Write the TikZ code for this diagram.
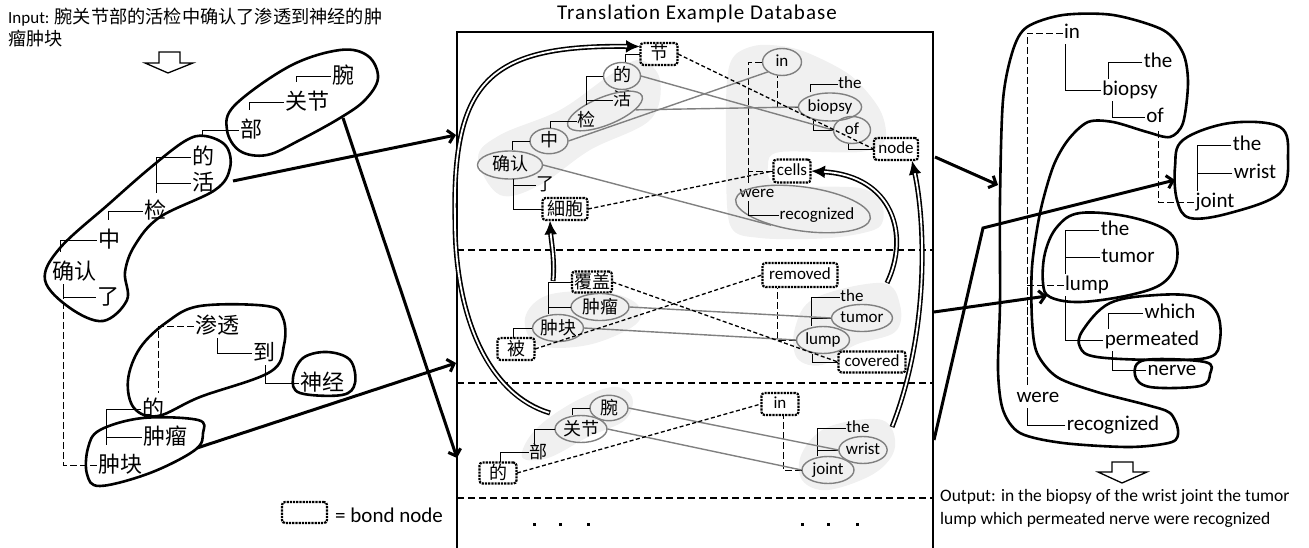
\documentclass[tikz,border=0pt]{standalone}
\usepackage{fontspec}
\setmainfont{Carlito}
\newfontfamily\cjk{Noto Sans CJK SC}
\newfontfamily\spacedfont[LetterSpace=5]{Carlito}
\usetikzlibrary{shapes.geometric,arrows.meta,calc}
\begin{document}
\begin{tikzpicture}[x=1pt,y=-1pt,
  lz/.style={font=\cjk\fontsize{22}{22}\selectfont, inner sep=0pt, outer sep=1.5pt, text height=18pt, text depth=3.5pt},
  mz/.style={font=\cjk\fontsize{18}{18}\selectfont, inner sep=0pt, outer sep=0.5pt, text height=15pt, text depth=3pt},
  me/.style={font=\fontsize{17}{17}\selectfont, inner sep=0pt, outer sep=0.5pt, text height=12pt, text depth=3.5pt},
  re/.style={font=\fontsize{21}{21}\selectfont, inner sep=0pt, outer sep=1.5pt, text height=15pt, text depth=4.5pt},
  gel/.style={ellipse, draw=gray, line width=1.4pt},
  bond/.style={draw, rounded corners=3pt, densely dotted, line width=2.2pt},
  tree/.style={line width=0.8pt},
  tdash/.style={line width=0.8pt, dash pattern=on 7pt off 3pt},
  aln/.style={draw=gray, line width=1.4pt},
  bline/.style={line width=1.3pt, dash pattern=on 4pt off 2.5pt},
  blob/.style={line width=2.6pt, line join=round},
  gblob/.style={fill=gray!12, draw=none},
  tarr/.style={line width=3pt, -{Straight Barb[length=6pt,width=13pt]}},
  darrb/.style={draw=black, line width=5pt, -{Latex[length=14pt,width=13pt]}},
  darrw/.style={draw=white, line width=1.8pt, shorten >=13pt, shorten <=0.8pt},
  hollow/.style={line width=1.3pt, line join=miter}
]
\useasboundingbox (0,0) rectangle (1309,548);

% ---------- gray background blobs (database) ----------
\fill[gblob] plot[smooth cycle, tension=0.6] coordinates {(478,158) (500,135) (560,110) (610,75) (640,60) (660,80) (650,120) (590,150) (540,185) (500,195)};
\fill[gblob] plot[smooth cycle, tension=0.5] coordinates {(735,55) (760,45) (800,50) (850,75) (880,110) (885,140) (860,152) (780,152) (768,165) (778,185) (860,188) (882,205) (878,228) (830,238) (760,238) (730,225) (726,150) (727,80)};
\fill[gblob] plot[smooth cycle, tension=0.6] coordinates {(525,318) (548,295) (605,292) (638,305) (635,325) (588,345) (538,345)};
\fill[gblob] plot[smooth cycle, tension=0.6] coordinates {(882,283) (900,305) (895,332) (855,345) (822,365) (797,358) (795,328) (815,298)};
\fill[gblob] plot[smooth cycle, tension=0.6] coordinates {(522,457) (535,430) (572,403) (612,387) (632,397) (625,420) (588,437) (548,458)};
\fill[gblob] plot[smooth cycle, tension=0.6] coordinates {(882,420) (895,447) (875,473) (828,490) (802,480) (802,453) (828,427)};

% ---------- titles and texts ----------
\node[font=\spacedfont\fontsize{21}{21}\selectfont, inner sep=0pt] (title) at (697,14) {Translation Example Database};
\node[anchor=base west, inner sep=0pt] (input1) at (8,24) {\fontsize{17}{17}\selectfont Input: \cjk\fontsize{18.2}{18.2}\selectfont 腕关节部的活检中确认了渗透到神经的肿};
\node[anchor=base west, inner sep=0pt] (input2) at (8,46) {\cjk\fontsize{18.2}{18.2}\selectfont 瘤肿块};
\node[anchor=north west, align=left, font=\fontsize{17.5}{23}\selectfont, inner sep=0pt] (output) at (940,489) {Output: in the biopsy of the wrist joint the tumor\\lump which permeated nerve were recognized};
\node[bond, minimum width=45pt, minimum height=21pt] (legbox) at (304.5,512.5) {};
\node[anchor=west, font=\fontsize{21}{21}\selectfont, inner sep=0pt] (legtxt) at (335,515) {= bond node};

% hollow arrows
\draw[hollow] (159,52) -- (180,52) -- (180,63) -- (193,63) -- (168,73) -- (145,63) -- (159,63) -- cycle;
\draw[hollow] (1112,462) -- (1133,462) -- (1133,472) -- (1147,472) -- (1122,483) -- (1098,472) -- (1112,472) -- cycle;

% ---------- database box ----------
\draw[line width=1.5pt] (457,552) -- (457,32) -- (933,32) -- (933,552);
\draw[line width=1.5pt, dash pattern=on 7pt off 4pt] (457,250) -- (933,250);
\draw[line width=1.5pt, dash pattern=on 7pt off 4pt] (457,383) -- (933,383);
\draw[line width=1.5pt, dash pattern=on 7pt off 4pt] (457,498) -- (933,498);
\foreach \x in {534,560,588,802,828,857} \fill (\x-1.5,522.5) rectangle ++(3.5,3.5);

% ---------- left panel nodes ----------
\node[lz] (wan) at (343,76) {腕};
\node[lz] (guanjie) at (307,102) {关节};
\node[lz] (bu) at (251,130) {部};
\node[lz] (de1) at (203,157) {的};
\node[lz] (huo) at (203,183) {活};
\node[lz] (jian) at (155,211) {检};
\node[lz] (zhong) at (109,240) {中};
\node[lz] (queren) at (74,272) {确认};
\node[lz] (le) at (108,297) {了};
\node[lz] (shentou) at (217,326) {渗透};
\node[lz] (dao) at (264,353) {到};
\node[lz] (shenjing) at (322,383) {神经};
\node[lz] (de2) at (153,409) {的};
\node[lz] (zhongliu) at (165,437) {肿瘤};
\node[lz] (zhongkuai) at (120,465) {肿块};

% ---------- middle top nodes ----------
\node[mz, bond, minimum width=37pt, minimum height=22pt] (jie) at (659,54) {节};
\node[mz, gel, minimum width=37pt, minimum height=27pt] (mde) at (622,76) {的};
\node[mz] (mhuo) at (622,100) {活};
\node[mz] (mjian) at (586,121) {检};
\node[gel, minimum width=80pt, minimum height=28pt, rotate=22, inner sep=0pt] (huojian) at (605,111) {};
\node[mz, gel, minimum width=38pt, minimum height=25pt] (mzhong) at (549,141) {中};
\node[mz, gel, minimum width=65pt, minimum height=28pt] (mqueren) at (510,165) {确认};
\node[mz] (mle) at (545,185) {了};
\node[mz, bond, minimum width=45pt, minimum height=22pt] (xibao) at (565,209) {細胞};
\node[me, gel, minimum width=39pt, minimum height=27pt] (ein) at (782,62) {in};
\node[me] (ethe1) at (850,84) {the};
\node[me, gel, minimum width=56pt, minimum height=28pt] (ebiopsy) at (830,107) {biopsy};
\node[me, gel, minimum width=37pt, minimum height=27pt] (eof) at (852,130) {of};
\node[me, bond, minimum width=44pt, minimum height=22pt] (enode) at (896,149) {node};
\node[me, bond, minimum width=37pt, minimum height=23pt] (ecells) at (792,171) {cells};
\node[me] (ewere) at (757,193) {were};
\node[me] (erec) at (817,215) {recognized};
\node[gel, minimum width=136pt, minimum height=44pt, rotate=-8, inner sep=0pt] (wrell) at (803,209) {};

% ---------- middle section nodes ----------
\node[mz, bond, minimum width=40pt, minimum height=21pt] (fugai) at (592,282) {覆盖};
\node[mz, gel, minimum width=58pt, minimum height=27pt] (mzl) at (600,307) {肿瘤};
\node[mz, gel, minimum width=50pt, minimum height=27pt] (mzk) at (558,328) {肿块};
\node[mz, bond, minimum width=37pt, minimum height=22pt] (bei) at (516,349) {被};
\node[me, bond, minimum width=75pt, minimum height=24pt] (removed) at (800,275) {removed};
\node[me] (mthe2) at (852,297) {the};
\node[me, gel, minimum width=58pt, minimum height=27pt] (tumor) at (862,318) {tumor};
\node[me, gel, minimum width=53pt, minimum height=27pt] (lump) at (823,340) {lump};
\node[me, bond, minimum width=67pt, minimum height=21pt] (covered) at (872,362) {covered};

% ---------- bottom section nodes ----------
\node[mz, gel, minimum width=38pt, minimum height=25pt] (bwan) at (609,408) {腕};
\node[mz, gel, minimum width=52pt, minimum height=27pt] (bguanjie) at (581,429) {关节};
\node[mz] (bbu) at (538,452) {部};
\node[mz, bond, minimum width=37pt, minimum height=21pt] (bde) at (498,473) {的};
\node[me, bond, minimum width=37pt, minimum height=22pt] (bin) at (780,404) {in};
\node[me] (bthe) at (858,428) {the};
\node[me, gel, minimum width=48pt, minimum height=27pt] (wrist) at (863,450) {wrist};
\node[me, gel, minimum width=52pt, minimum height=27pt] (joint) at (828,470) {joint};

% ---------- right panel nodes ----------
\node[re] (rin) at (1072,33) {in};
\node[re] (rthe1) at (1158,62) {the};
\node[re] (rbiopsy) at (1130,90) {biopsy};
\node[re] (rof) at (1155,117) {of};
\node[re] (rthe2) at (1247,145) {the};
\node[re] (rwrist) at (1255,173) {wrist};
\node[re] (rjoint) at (1215,202) {joint};
\node[re] (rthe3) at (1115,230) {the};
\node[re] (rtumor) at (1128,257) {tumor};
\node[re] (rlump) at (1087,285) {lump};
\node[re] (rwhich) at (1170,313) {which};
\node[re] (rperm) at (1152,340) {permeated};
\node[re] (rnerve) at (1172,370) {nerve};
\node[re] (rwere) at (1038,397) {were};
\node[re] (rrec) at (1113,425) {recognized};

% ---------- left tree ----------
\draw[tree] (wan.west) -| ([xshift=-11pt,yshift=8pt]guanjie.north);
\draw[tree] (guanjie.west) -| ([xshift=-2pt,yshift=8pt]bu.north);
\draw[tree] (bu.west) -| ([xshift=-1pt,yshift=8pt]de1.north);
\draw[tree] (de1.west) -| ([xshift=1pt,yshift=6pt]jian.north);
\draw[tree] (huo.west) -| ([xshift=1pt,yshift=6pt]jian.north);
\draw[tree] (jian.west) -| ([xshift=-1pt,yshift=8pt]zhong.north);
\draw[tree] (zhong.west) -| ([xshift=-14pt,yshift=8pt]queren.north);
\draw[tree] (le.west) -| ([xshift=-11pt]queren.south);
\draw[tdash] (zhongkuai.west) -| ([xshift=-11pt,yshift=-12pt]queren.south);
\draw[tree] (zhongliu.west) -| ([xshift=-14pt,yshift=8pt]zhongkuai.north);
\draw[tree] (de2.west) -| ([xshift=-14pt,yshift=8pt]zhongkuai.north);
\draw[tdash] (shentou.west) -| ([xshift=5pt,yshift=4pt]de2.north);
\draw[tree] (dao.west) -| (shentou.south);
\draw[tree] (shenjing.west) -| ([xshift=1pt]dao.south);

% ---------- middle top tree ----------
\draw[tree] (jie.west) -| ([xshift=3pt]mde.north);
\draw[tree] (mde.west) -| ([yshift=6pt]mjian.north);
\draw[tree] (mhuo.west) -| ([yshift=6pt]mjian.north);
\draw[tree] (mjian.west) -| ([xshift=1pt]mzhong.north);
\draw[tree] (mzhong.west) -| ([xshift=2pt]mqueren.north);
\draw[tree] (mle.west) -| ([xshift=3pt]mqueren.south);
\draw[tree] (xibao.west) -| ([xshift=3pt]mqueren.south);
\draw[tdash] (ein.west) -| ([xshift=-9pt,yshift=2pt]ewere.north);
\draw[tdash] (ecells.west) -| ([xshift=-9pt,yshift=2pt]ewere.north);
\draw[tree] (erec.west) -| ([xshift=-9pt]ewere.south);
\draw[tdash] (ebiopsy.west) -| ([xshift=-5pt]ein.south);
\draw[tree] (ethe1.west) -| ([xshift=-20pt]ebiopsy.north);
\draw[tree] (eof.west) -| ([xshift=-17pt]ebiopsy.south);
\draw[tree] (enode.west) -| ([xshift=-4pt]eof.south);

% ---------- middle section tree ----------
\draw[tree] (fugai.west) -| ([xshift=-10pt]mzk.north);
\draw[tree] (mzl.west) -| ([xshift=-10pt]mzk.north);
\draw[tree] (mzk.west) -| ([xshift=-3pt]bei.north);
\draw[tdash] (lump.west) -| ([xshift=-23pt]removed.south);
\draw[tree] (mthe2.west) -| ([xshift=-12pt]lump.north);
\draw[tree] (tumor.west) -| ([xshift=-12pt]lump.north);
\draw[tree] (covered.west) -| ([xshift=-11pt]lump.south);

% ---------- bottom section tree ----------
\draw[tree] (bwan.west) -| ([xshift=-9pt]bguanjie.north);
\draw[tree] (bguanjie.west) -| ([xshift=-4pt]bbu.north);
\draw[tree] (bbu.west) -| ([xshift=2pt]bde.north);
\draw[tdash] (joint.west) -| ([xshift=3pt]bin.south);
\draw[tree] (bthe.west) -| ([xshift=-11pt]joint.north);
\draw[tree] (wrist.west) -| ([xshift=-11pt]joint.north);

% ---------- right tree ----------
\draw[tdash] (rin.west) -| ([xshift=-11pt]rwere.north);
\draw[tdash] (rlump.west) -| ([xshift=-11pt]rwere.north);
\draw[tree] (rrec.west) -| ([xshift=-11pt]rwere.south);
\draw[tree] (rbiopsy.west) -| ([xshift=-7pt]rin.south);
\draw[tree] (rthe1.west) -| ([xshift=-22pt]rbiopsy.north);
\draw[tree] (rof.west) -| ([xshift=-18pt]rbiopsy.south);
\draw[tdash] (rjoint.west) -| ([xshift=3pt]rof.south);
\draw[tree] (rthe2.west) -| ([xshift=-18pt]rjoint.north);
\draw[tree] (rwrist.west) -| ([xshift=-18pt]rjoint.north);
\draw[tree] (rthe3.west) -| ([xshift=-22pt]rlump.north);
\draw[tree] (rtumor.west) -| ([xshift=-22pt]rlump.north);
\draw[tree] (rperm.west) -| ([xshift=-22pt]rlump.south);
\draw[tree] (rwhich.west) -| ([xshift=-44pt]rperm.north);
\draw[tree] (rnerve.west) -| ([xshift=-40pt]rperm.south);

% ---------- alignment lines ----------
\draw[aln] (mde.east) -- (eof.west);
\draw[aln] (huojian.south east) -- (ebiopsy.west);
\draw[aln] (mzhong.east) -- (ein.south west);
\draw[aln] (mqueren.east) -- (wrell.215);
\draw[aln] (mzl.east) -- (tumor.west);
\draw[aln] (mzk.east) -- (lump.west);
\draw[aln] (bwan.east) -- (wrist.west);
\draw[aln] (bguanjie.east) -- (joint.west);

% ---------- bond links ----------
\draw[bline] (jie.east) -- (enode.west);
\draw[bline] (xibao.east) -- (ecells.west);
\draw[bline] (fugai.east) -- (covered.west);
\draw[bline] (bei.east) -- (removed.west);
\draw[bline] (bde.east) -- (bin.west);

% ---------- left blobs ----------
\draw[blob] plot[smooth cycle, tension=0.6] coordinates {(340,50) (368,56) (378,78) (365,100) (340,118) (300,140) (267,155) (240,151) (227,130) (235,105) (290,66)};
\draw[blob] plot[smooth cycle, tension=0.6] coordinates {(205,136) (226,146) (230,168) (215,190) (160,217) (135,245) (125,272) (127,300) (103,321) (70,308) (45,280) (60,248) (110,203) (150,168) (185,141)};
\draw[blob] plot[smooth cycle, tension=0.6] coordinates {(200,306) (267,306) (283,318) (284,345) (270,372) (200,397) (158,416) (134,408) (128,380) (140,348) (167,322)};
\draw[blob] plot[smooth cycle, tension=0.6] coordinates {(327,352) (350,360) (355,383) (342,395) (300,393) (293,378) (303,358)};
\draw[blob] plot[smooth cycle, tension=0.6] coordinates {(143,418) (198,420) (203,433) (195,450) (150,473) (100,486) (87,474) (88,448) (100,430)};

% ---------- right blobs ----------
\draw[blob] plot[smooth cycle, tension=0.5] coordinates {(1027,27) (1063,15) (1113,15) (1163,30) (1183,53) (1188,83) (1183,123) (1170,137) (1147,132) (1113,122) (1088,122) (1068,140) (1053,167) (1040,213) (1032,267) (1032,320) (1037,353) (1057,377) (1097,392) (1147,405) (1170,413) (1178,430) (1172,442) (1130,447) (1063,443) (1020,433) (1003,410) (998,370) (1000,303) (1000,200) (1003,100) (1013,50)};
\draw[blob] plot[smooth cycle, tension=0.6] coordinates {(1230,123) (1280,127) (1288,157) (1280,193) (1230,213) (1190,218) (1177,200) (1175,167) (1183,140)};
\draw[blob] plot[smooth cycle, tension=0.6] coordinates {(1080,213) (1130,217) (1170,233) (1177,260) (1163,283) (1130,295) (1080,302) (1050,297) (1043,283) (1045,253) (1057,227)};
\draw[blob] plot[smooth cycle, tension=0.6] coordinates {(1157,295) (1197,297) (1217,313) (1220,340) (1210,357) (1163,360) (1097,357) (1080,347) (1083,330) (1110,303)};
\draw[blob] plot[smooth cycle, tension=0.6] coordinates {(1145,360) (1205,362) (1210,374) (1200,386) (1150,387) (1135,375)};

% ---------- thick arrows ----------
\coordinate (lb2) at (233,181); \coordinate (dbA) at (456,135);
\coordinate (lb1) at (343,118); \coordinate (dbB) at (457,458);
\coordinate (lb5) at (197,448); \coordinate (dbC) at (456,363);
\coordinate (dbD) at (935,157); \coordinate (rA) at (998,185);
\coordinate (dbE) at (934,312); \coordinate (rC) at (1047,296);
\coordinate (dbF) at (934,440); \coordinate (bendF) at (983,228); \coordinate (rB) at (1175,180);
\draw[tarr] (lb2) -- (dbA);
\draw[tarr] (lb1) -- (dbB);
\draw[tarr] (lb5) -- (dbC);
\draw[tarr] (dbD) -- (rA);
\draw[tarr] (dbE) -- (rC);
\draw[tarr, line join=miter] (dbF) -- (bendF) -- (rB);

% ---------- double arrows ----------
\coordinate (d1s) at (550,413);
\coordinate (d2s) at (553,281);
\coordinate (d3s) at (887,283);
\coordinate (d4s) at (892,427);
\draw[darrb] (d1s) .. controls (490,395) and (455,320) .. (455,220) .. controls (452,80) and (490,45) .. ([yshift=-4pt]jie.north west);
\draw[darrw] (d1s) .. controls (490,395) and (455,320) .. (455,220) .. controls (452,80) and (490,45) .. ([yshift=-4pt]jie.north west);
\draw[darrb] (d2s) .. controls (555,260) and (551,240) .. ([xshift=-15pt]xibao.south);
\draw[darrw] (d2s) .. controls (555,260) and (551,240) .. ([xshift=-15pt]xibao.south);
\draw[darrb] (d3s) .. controls (910,235) and (893,176) .. (ecells.east);
\draw[darrw] (d3s) .. controls (910,235) and (893,176) .. (ecells.east);
\draw[darrb] (d4s) .. controls (930,330) and (925,220) .. ([xshift=16pt]enode.south);
\draw[darrw] (d4s) .. controls (930,330) and (925,220) .. ([xshift=16pt]enode.south);
\end{tikzpicture}
\end{document}
